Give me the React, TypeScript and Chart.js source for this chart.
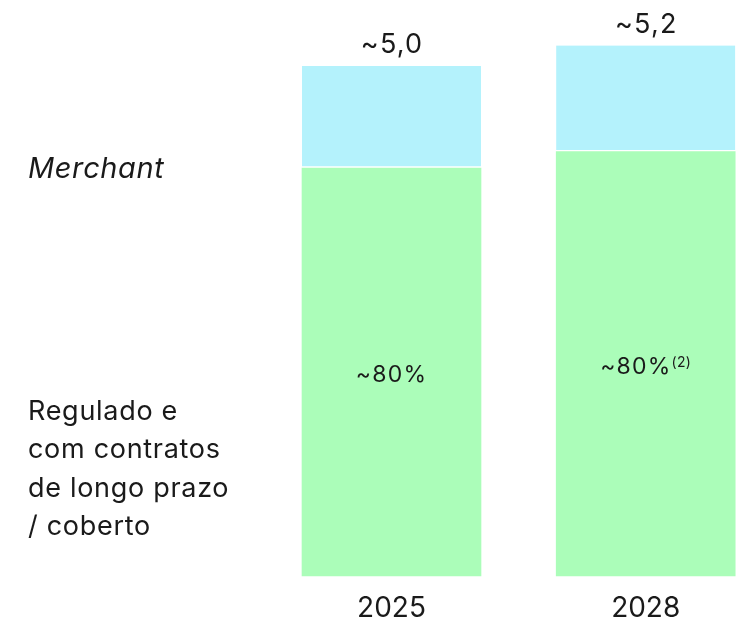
import React, { useEffect, useRef } from "react";
import { Chart, registerables } from "chart.js";

Chart.register(...registerables);

const categories = ["2025", "2028"];
const reguladoValues = [4.0, 4.16];
const merchantValues = [1.0, 1.04];
const totalLabels = ["~5,0", "~5,2"];
const shareLabels = ["~80%", "~80%"];
const shareNotes = ["", "(2)"];
const merchantLabel = "Merchant";
const reguladoLabel = ["Regulado e", "com contratos", "de longo prazo", "/ coberto"];

const FONT = "Inter, 'Noto Sans', sans-serif";
const TEXT = "#1a1a1a";

const labelPlugin = {
  id: "customLabels",
  afterDatasetsDraw(chart: any) {
    const ctx = chart.ctx;
    const g = chart.getDatasetMeta(0);
    const b = chart.getDatasetMeta(1);
    const y = chart.scales.y;
    ctx.save();
    ctx.fillStyle = TEXT;
    ctx.textBaseline = "alphabetic";
    // totals above bars
    ctx.font = `27px ${FONT}`;
    ctx.letterSpacing = "1.2px";
    ctx.textAlign = "left";
    b.data.forEach((bar: any, i: number) => {
      const w = ctx.measureText(totalLabels[i]).width - 1.2;
      ctx.fillText(totalLabels[i], bar.x - w / 2, bar.y - 12.7);
    });
    // share labels inside green
    g.data.forEach((bar: any, i: number) => {
      const mid = (bar.y + bar.base) / 2 + 10;
      ctx.letterSpacing = "1.2px";
      ctx.font = `23px ${FONT}`;
      const w1 = ctx.measureText(shareLabels[i]).width;
      ctx.letterSpacing = "0.3px";
      ctx.font = `14px ${FONT}`;
      const w2 = shareNotes[i] ? ctx.measureText(shareNotes[i]).width : 0;
      const start = bar.x - (w1 + w2) / 2;
      ctx.letterSpacing = "1.2px";
      ctx.font = `23px ${FONT}`;
      ctx.fillText(shareLabels[i], start, mid);
      if (shareNotes[i]) {
        ctx.letterSpacing = "0.3px";
        ctx.font = `14px ${FONT}`;
        ctx.fillText(shareNotes[i], start + w1, mid - 7);
      }
    });
    // left labels
    ctx.textAlign = "left";
    ctx.letterSpacing = "0.6px";
    ctx.font = `italic 29px ${FONT}`;
    ctx.fillText(merchantLabel, 28, y.getPixelForValue(reguladoValues[0]) + 10);
    ctx.letterSpacing = "0.7px";
    ctx.font = `27px ${FONT}`;
    const base = y.getPixelForValue(0);
    reguladoLabel.forEach((line, k) => {
      ctx.fillText(line, 28, base - 156.5 + k * 38.5);
    });
    ctx.restore();
  },
};

export default function App() {
  const ref = useRef<HTMLCanvasElement | null>(null);
  useEffect(() => {
    document.body.style.margin = "0";
    const chart = new Chart(ref.current!, {
      type: "bar",
      data: {
        labels: categories,
        datasets: [
          {
            label: "Regulado",
            data: reguladoValues,
            backgroundColor: "#abfdb9",
            borderWidth: 0,
            barThickness: 179,
            clip: false as any,
          },
          {
            label: "Merchant",
            data: merchantValues,
            backgroundColor: "#b4f2fc",
            borderColor: "#ffffff",
            borderWidth: { bottom: 2, top: 0, left: 0, right: 0 } as any,
            borderSkipped: false,
            barThickness: 179,
            clip: false as any,
          },
        ],
      },
      options: {
        animation: false,
        responsive: false,
        layout: { padding: { left: 391.5, right: 93.3, top: 10, bottom: 0 } },
        plugins: { legend: { display: false }, tooltip: { enabled: false } },
        scales: {
          x: {
            stacked: true,
            offset: false,
            grid: { display: false },
            border: { display: false },
            ticks: { color: TEXT, font: { size: 28, family: FONT }, padding: 8 },
            afterFit: (s: any) => {
              s.height = 45;
            },
          },
          y: {
            stacked: true,
            display: false,
            min: 0,
            max: 566 / 102,
          },
        },
      },
      plugins: [labelPlugin],
    });
    return () => chart.destroy();
  }, []);
  return (
    <div style={{ width: 739, height: 621 }}>
      <canvas ref={ref} width={739} height={621} />
    </div>
  );
}
